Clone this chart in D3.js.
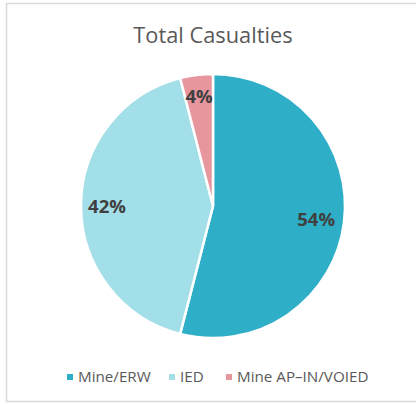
<!DOCTYPE html>
<html><head><meta charset="utf-8">
<script src="https://cdn.jsdelivr.net/npm/d3@7"></script>
<style>html,body{margin:0;padding:0;background:#fff;overflow:hidden}</style>
</head><body>
<svg id="c" width="416" height="404"></svg>
<script>
const categories = ["Mine/ERW", "IED", "Mine AP\u2013IN/VOIED"];
const values = [54, 42, 4];
const labels = ["54%", "42%", "4%"];
const colors = ["#2EAFC7", "#A3DFE8", "#E8969E"];
const title = "Total Casualties";

const svg = d3.select("#c");
const font = "'Open Sans', sans-serif";
svg.append("rect").attr("x",6.5).attr("y",3.5).attr("width",420).attr("height",398)
  .attr("fill","#fff").attr("stroke","#d9d9d9").attr("stroke-width",1.5);

svg.append("text").attr("x",213).attr("y",43).attr("text-anchor","middle")
  .attr("font-family",font).attr("font-size",21.8).attr("fill","#595959").text(title);

const cx = 213, cy = 206, R = 132;
const pie = d3.pie().sort(null).value(d=>d)(values);
const arc = d3.arc().innerRadius(0).outerRadius(R);
const g = svg.append("g").attr("transform",`translate(${cx},${cy})`);
g.selectAll("path").data(pie).join("path").attr("d",arc)
  .attr("fill",(d,i)=>colors[i]).attr("stroke","#fff").attr("stroke-width",2.5).attr("stroke-linejoin","round");
const lr = [104, 106, 111];
g.selectAll("text").data(pie).join("text")
  .attr("transform",(d,i)=>{const a=(d.startAngle+d.endAngle)/2; return `translate(${Math.sin(a)*lr[i]},${-Math.cos(a)*lr[i]})`;})
  .attr("text-anchor","middle").attr("dy","0.36em")
  .attr("font-family",font).attr("font-weight","bold").attr("font-size",18.5).attr("fill","#404040")
  .text((d,i)=>labels[i]);

const lx = [67, 169, 226];
const leg = svg.append("g");
categories.forEach((c,i)=>{
  leg.append("rect").attr("x",lx[i]).attr("y",374).attr("width",6).attr("height",6).attr("fill",colors[i]);
  leg.append("text").attr("x",lx[i]+11).attr("y",382).attr("font-family",font).attr("font-size",15.2)
    .attr("fill","#595959").text(c);
});
</script>
</body></html>
